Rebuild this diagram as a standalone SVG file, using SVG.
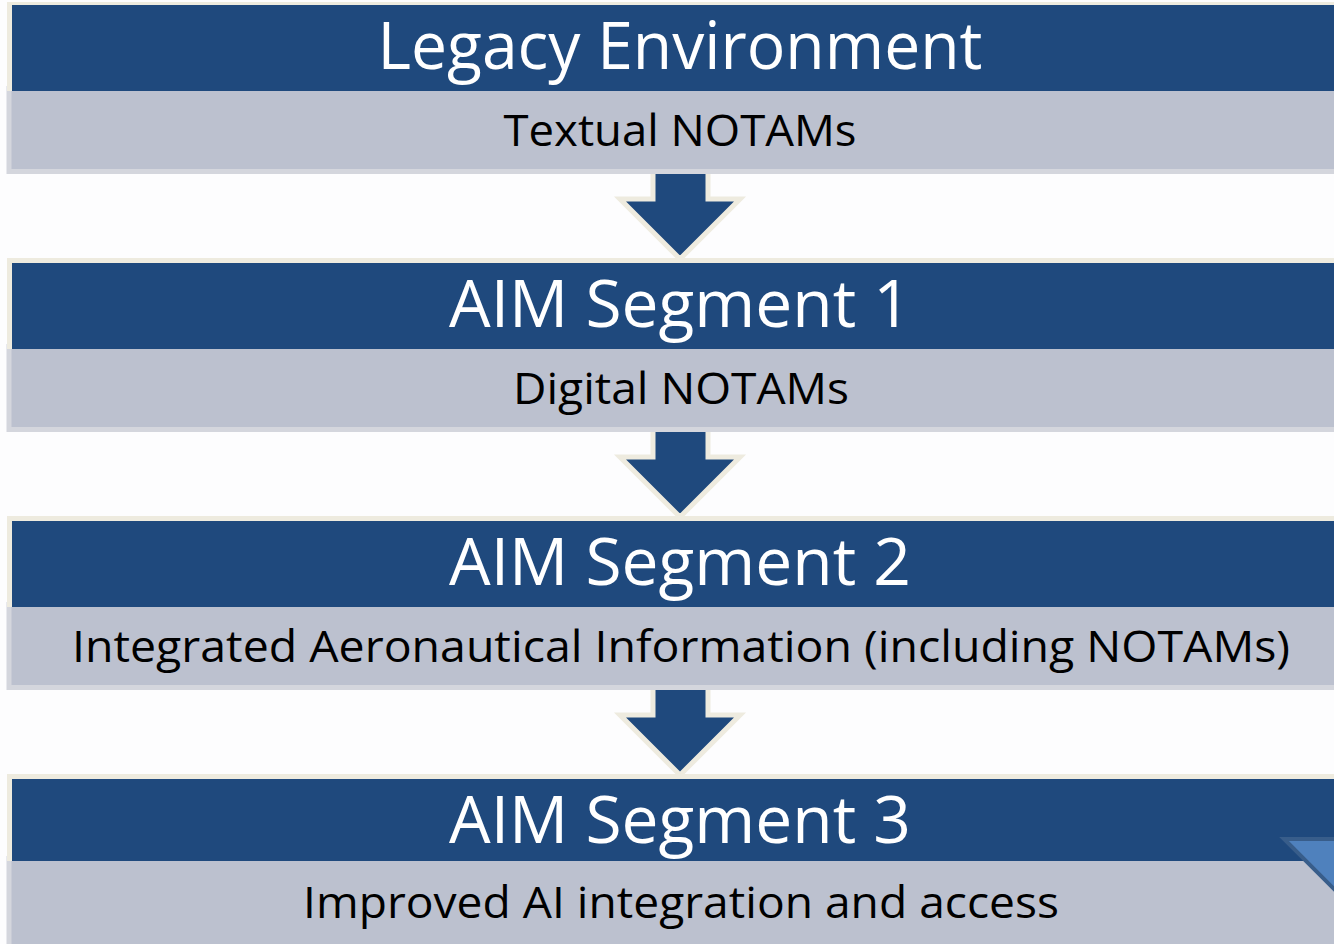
<svg xmlns="http://www.w3.org/2000/svg" width="1334" height="944" viewBox="0 0 1334 944">
<style>
.bg{fill:#FDFDFE}
.grey{fill:#BCC1CF;stroke:#D4D6DD;stroke-width:5}
.cream{fill:#EEEBDF}
.blue{fill:#1F497D}
.arrow{fill:#1F497D;stroke:#EEEBDF;stroke-width:5;stroke-linejoin:miter}
.title{font-family:"Open Sans","Noto Sans",sans-serif;font-size:66px;fill:#FFFFFF;text-anchor:middle}
.sub{font-family:"Open Sans","Noto Sans",sans-serif;font-size:44px;fill:#000000;text-anchor:middle}
.tri{fill:#4F81BD;stroke:#385D8A;stroke-width:4}
</style>
<rect class="bg" x="0" y="0" width="1334" height="944"/>
<g id="connectors">
<polygon class="arrow" points="653,170 708,170 708,199 740,199 680,259 620,199 653,199"/>
<polygon class="arrow" points="653,428 708,428 708,457 740,457 680,517 620,457 653,457"/>
<polygon class="arrow" points="653,686 708,686 708,715 740,715 680,775 620,715 653,715"/>
</g>
<g id="node-legacy">
<rect class="grey" x="9" y="88.5" width="1340" height="83"/>
<rect class="cream" x="7" y="2" width="1340" height="89"/>
<rect class="blue" x="12" y="5" width="1340" height="86"/>
<text class="title" x="680" y="69" textLength="605" lengthAdjust="spacingAndGlyphs">Legacy Environment</text>
<text class="sub" x="680" y="146" textLength="353" lengthAdjust="spacingAndGlyphs">Textual NOTAMs</text>
</g>
<g id="node-seg1">
<rect class="grey" x="9" y="346.5" width="1340" height="83"/>
<rect class="cream" x="7" y="258" width="1340" height="91"/>
<rect class="blue" x="12" y="263" width="1340" height="86"/>
<text class="title" x="680" y="327" textLength="462" lengthAdjust="spacingAndGlyphs">AIM Segment 1</text>
<text class="sub" x="681" y="404" textLength="336" lengthAdjust="spacingAndGlyphs">Digital NOTAMs</text>
</g>
<g id="node-seg2">
<rect class="grey" x="9" y="604.5" width="1340" height="83"/>
<rect class="cream" x="7" y="516" width="1340" height="91"/>
<rect class="blue" x="12" y="521" width="1340" height="86"/>
<text class="title" x="680" y="585" textLength="462" lengthAdjust="spacingAndGlyphs">AIM Segment 2</text>
<text class="sub" x="681" y="662" textLength="1218" lengthAdjust="spacingAndGlyphs">Integrated Aeronautical Information (including NOTAMs)</text>
</g>
<g id="node-seg3">
<rect class="grey" x="9" y="858.5" width="1340" height="100"/>
<rect class="cream" x="7" y="774" width="1340" height="87"/>
<rect class="blue" x="12" y="779" width="1340" height="82"/>
<polygon class="tri" points="1284,839 1345,839 1345,900"/>
<text class="title" x="680" y="843" textLength="462" lengthAdjust="spacingAndGlyphs">AIM Segment 3</text>
<text class="sub" x="681" y="918" textLength="756" lengthAdjust="spacingAndGlyphs">Improved AI integration and access</text>
</g>
</svg>
